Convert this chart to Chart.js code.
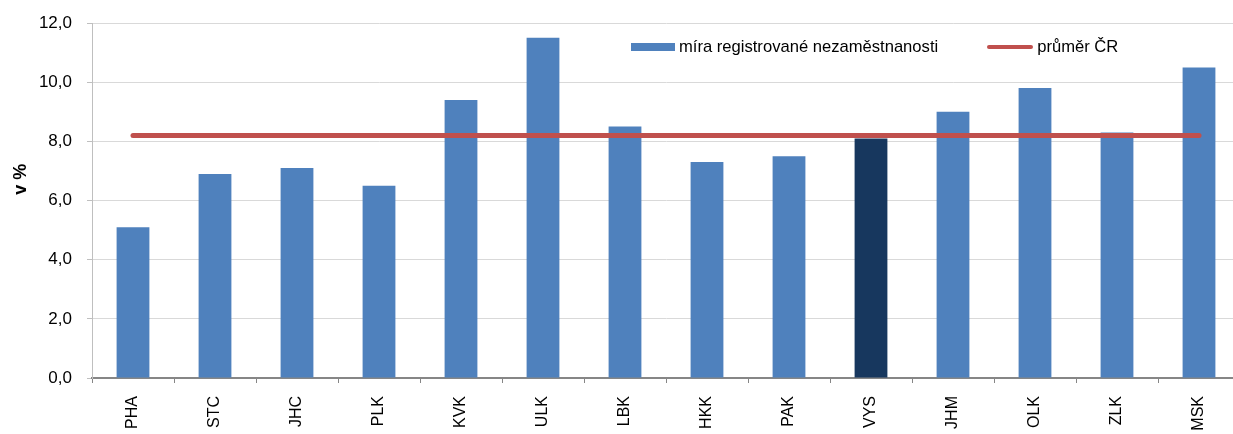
<!DOCTYPE html>
<html>
<head>
<meta charset="utf-8">
<script src="https://cdn.jsdelivr.net/npm/chart.js@4.4.0/dist/chart.umd.min.js"></script>
<style>
  body { margin: 0; overflow: hidden; background: #fff; font-family: "Liberation Sans", Arial, sans-serif; }
  #wrap { position: relative; width: 1240px; height: 434px; }
  #legend { position: absolute; left: 631px; top: 36px; font-size: 16.6px; color: #000; white-space: nowrap; line-height: 20px; }
  #legend span { display: inline-block; vertical-align: middle; }
  .sw-bar { width: 44px; height: 8px; background: #4F81BD; margin-right: 4px; }
  .sw-line { width: 46px; height: 4px; background: #C0504D; border-radius: 2px; margin-left: 49px; margin-right: 4px; }
</style>
</head>
<body>
<div id="wrap">
<canvas id="graf"></canvas>
<div id="legend"></div>
</div>

<script>
var kraje = ['PHA','STC','JHC','PLK','KVK','ULK','LBK','HKK','PAK','VYS','JHM','OLK','ZLK','MSK'];
var mira = [5.1, 6.9, 7.1, 6.5, 9.4, 11.5, 8.5, 7.3, 7.5, 8.1, 9.0, 9.8, 8.3, 10.5];
var prumerCR = [8.2, 8.2, 8.2, 8.2, 8.2, 8.2, 8.2, 8.2, 8.2, 8.2, 8.2, 8.2, 8.2, 8.2];
var nazevMira = 'míra registrované nezaměstnanosti';
var nazevPrumer = 'průměr ČR';
var osaY = 'v %';
var zvyraznit = 'VYS';

var barvy = kraje.map(function(k) { return k === zvyraznit ? '#17375E' : '#4F81BD'; });

document.getElementById('legend').innerHTML =
  '<span class="sw-bar"></span><span>' + nazevMira + '</span>' +
  '<span class="sw-line"></span><span>' + nazevPrumer + '</span>';

// popisek osy y - v originale neni na stredu osy
var popisekY = {
  id: 'popisekY',
  afterDraw: function(chart) {
    var ctx = chart.ctx, a = chart.chartArea;
    ctx.save();
    ctx.translate(21, a.top + (a.bottom - a.top) * 0.44);
    ctx.rotate(-Math.PI / 2);
    ctx.font = 'bold 18px "Liberation Sans", Arial';
    ctx.fillStyle = '#000';
    ctx.textAlign = 'center';
    ctx.textBaseline = 'middle';
    ctx.fillText(osaY, 0, 0);
    ctx.restore();
  }
};

new Chart(document.getElementById('graf'), {
  type: 'bar',
  data: {
    labels: kraje,
    datasets: [{
      type: 'line',
      label: nazevPrumer,
      data: prumerCR,
      borderColor: '#C0504D',
      borderWidth: 5,
      borderCapStyle: 'round',
      pointRadius: 0,
      fill: false,
      order: 0
    }, {
      label: nazevMira,
      data: mira,
      backgroundColor: barvy,
      barPercentage: 0.4,
      categoryPercentage: 1.0,
      order: 1
    }]
  },
  plugins: [popisekY],
  options: {
    responsive: true,
    maintainAspectRatio: false,
    animation: false,
    layout: { padding: { top: 23, right: 0, left: 0, bottom: 0 } },
    plugins: {
      legend: { display: false },
      tooltip: { enabled: false }
    },
    scales: {
      x: {
        offset: true,
        afterFit: function(s) { s.height = 56; },
        grid: { offset: true, drawOnChartArea: false, drawTicks: true, tickLength: 5, color: '#868686' },
        border: { color: '#868686', width: 2 },
        ticks: { minRotation: 90, maxRotation: 90, padding: 13, color: '#000', font: { size: 16, family: '"Liberation Sans", Arial' } }
      },
      y: {
        min: 0,
        max: 12,
        afterFit: function(s) { s.width = 92; s.paddingTop = 0; s.paddingBottom = 0; },
        grid: { color: '#d9d9d9', tickLength: 5, tickColor: '#bfbfbf' },
        border: { color: '#bfbfbf', width: 1 },
        ticks: {
          stepSize: 2,
          padding: 15,
          color: '#000',
          font: { size: 17, family: '"Liberation Sans", Arial' },
          callback: function(v) { return v.toFixed(1).replace('.', ','); }
        }
      }
    }
  }
});
</script>
</body>
</html>
